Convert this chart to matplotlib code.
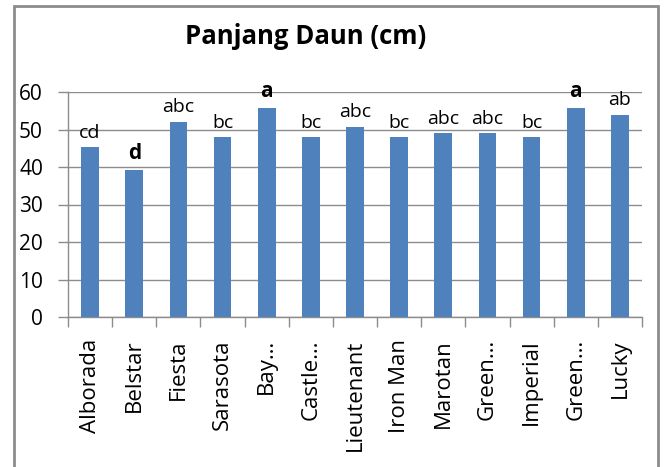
import matplotlib
matplotlib.use("Agg")
import matplotlib.pyplot as plt
from matplotlib.patches import Rectangle
import numpy as np

categories = ["Alborada", "Belstar", "Fiesta", "Sarasota", "Bay…", "Castle…",
              "Lieutenant", "Iron Man", "Marotan", "Green…", "Imperial", "Green…", "Lucky"]
values = [45.3, 39.2, 52.1, 47.9, 55.8, 47.9, 50.7, 47.9, 49.0, 49.0, 47.9, 55.8, 54.0]
letters = ["cd", "d", "abc", "bc", "a", "bc", "abc", "bc", "abc", "abc", "bc", "a", "ab"]
bold_letters = [False, True, False, False, True, False, False, False, False, False, False, True, False]
yticks = [0, 10, 20, 30, 40, 50, 60]

plt.rcParams['font.family'] = ['Open Sans', 'DejaVu Sans']

fig = plt.figure(figsize=(6.64, 4.67), dpi=100)
ax = fig.add_axes([68/664, 1-317/467, (642-68)/664, (317-92)/467])

x = np.arange(len(categories))
ax.bar(x, values, width=0.4, color="#4F81BD", zorder=3)
ax.set_xlim(-0.5, len(categories)-0.5)
ax.set_ylim(0, 60)
ax.set_yticks(yticks)
ax.set_yticklabels([str(v) for v in yticks], fontsize=15)
ax.yaxis.grid(True, color="#8C8C8C", linewidth=1.0, zorder=0)
ax.set_axisbelow(True)

ax.set_xticks(x)
ax.set_xticklabels(categories, rotation=90, fontsize=16, va="top", ha="center")
ax.set_xticks(np.arange(len(categories)+1)-0.5, minor=True)
ax.tick_params(axis='x', which='major', length=0, pad=16)
ax.tick_params(axis='x', which='minor', length=7, color="#8C8C8C", width=1.0, direction='out')
ax.tick_params(axis='y', length=7, color="#8C8C8C", width=1.0, pad=11)

for s in ["top", "right"]:
    ax.spines[s].set_visible(False)
for s in ["left", "bottom"]:
    ax.spines[s].set_color("#8C8C8C")
    ax.spines[s].set_linewidth(1.0)

for xi, v, lab, b in zip(x, values, letters, bold_letters):
    ax.annotate(lab, (xi, v), xytext=(0, 4), textcoords="offset points",
                ha="center", va="bottom", fontsize=15 if b else 14,
                fontweight="bold" if b else "normal", zorder=4)

fig.text(306/664, 1-37/467, "Panjang Daun (cm)", ha="center", va="center",
         fontsize=18.5, fontweight="bold")

fig.patches.append(Rectangle((14/664, -0.05), (658-14)/664, 1.05-6/467,
                             transform=fig.transFigure, fill=False,
                             edgecolor="#8C8C8C", linewidth=2.0))

fig.savefig("out.png", dpi=100)
